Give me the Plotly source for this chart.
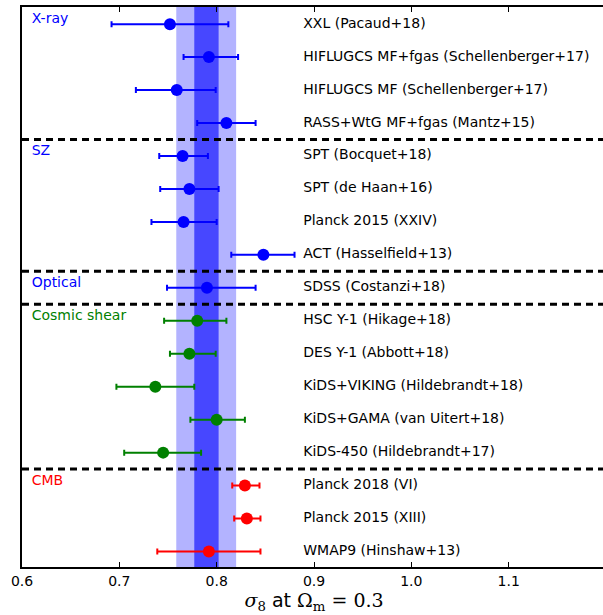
import plotly.graph_objects as go

labels = ["XXL (Pacaud+18)", "HIFLUGCS MF+fgas (Schellenberger+17)", "HIFLUGCS MF (Schellenberger+17)",
          "RASS+WtG MF+fgas (Mantz+15)", "SPT (Bocquet+18)", "SPT (de Haan+16)", "Planck 2015 (XXIV)",
          "ACT (Hasselfield+13)", "SDSS (Costanzi+18)", "HSC Y-1 (Hikage+18)", "DES Y-1 (Abbott+18)",
          "KiDS+VIKING (Hildebrandt+18)", "KiDS+GAMA (van Uitert+18)", "KiDS-450 (Hildebrandt+17)",
          "Planck 2018 (VI)", "Planck 2015 (XIII)", "WMAP9 (Hinshaw+13)"]
sigma8 = [0.752, 0.792, 0.759, 0.810, 0.765, 0.772, 0.766, 0.848, 0.790,
          0.780, 0.772, 0.737, 0.800, 0.745, 0.829, 0.831, 0.792]
lower = [0.692, 0.766, 0.717, 0.780, 0.741, 0.742, 0.733, 0.815, 0.749,
         0.746, 0.752, 0.697, 0.773, 0.705, 0.816, 0.818, 0.739]
upper = [0.812, 0.822, 0.799, 0.840, 0.791, 0.802, 0.800, 0.880, 0.840,
         0.810, 0.799, 0.777, 0.829, 0.784, 0.844, 0.845, 0.845]
groups = ["X-ray", "X-ray", "X-ray", "X-ray", "SZ", "SZ", "SZ", "SZ", "Optical",
          "Cosmic shear", "Cosmic shear", "Cosmic shear", "Cosmic shear", "Cosmic shear",
          "CMB", "CMB", "CMB"]
group_names = ["X-ray", "SZ", "Optical", "Cosmic shear", "CMB"]
group_colors = {"X-ray": "#0000ff", "SZ": "#0000ff", "Optical": "#0000ff",
                "Cosmic shear": "#008000", "CMB": "#ff0000"}
band_outer = [0.7585, 0.820]
band_inner = [0.777, 0.802]
x_ticks = [0.6, 0.7, 0.8, 0.9, 1.0, 1.1]
x_range = [0.6, 1.2]

label_x = 0.889
group_label_x = 0.610

fig = go.Figure()

# bands
fig.add_shape(type="rect", xref="x", yref="paper", x0=band_outer[0], x1=band_outer[1], y0=0, y1=1,
              fillcolor="#b3b3ff", line_width=0, layer="below")
fig.add_shape(type="rect", xref="x", yref="paper", x0=band_inner[0], x1=band_inner[1], y0=0, y1=1,
              fillcolor="#4747ff", line_width=0, layer="below")

rows = list(range(len(labels)))
for g in group_names:
    idx = [i for i in rows if groups[i] == g]
    col = group_colors[g]
    fig.add_trace(go.Scatter(
        x=[sigma8[i] for i in idx], y=idx, mode="markers",
        marker=dict(color=col, size=12),
        error_x=dict(type="data", symmetric=False,
                     array=[upper[i] - sigma8[i] for i in idx],
                     arrayminus=[sigma8[i] - lower[i] for i in idx],
                     color=col, thickness=2, width=3),
        showlegend=False, hoverinfo="skip"))
    first = idx[0]
    fig.add_trace(go.Scatter(
        x=[group_label_x], y=[first - 0.13], mode="text", text=[g],
        textposition="middle right", textfont=dict(color=col, size=14, family="DejaVu Sans"),
        showlegend=False, hoverinfo="skip"))

fig.add_trace(go.Scatter(
    x=[label_x] * len(labels), y=rows, mode="text", text=labels,
    textposition="middle right", textfont=dict(color="black", size=14, family="DejaVu Sans"),
    showlegend=False, hoverinfo="skip", cliponaxis=False))

# separators
for i in range(1, len(groups)):
    if groups[i] != groups[i - 1]:
        fig.add_shape(type="line", xref="paper", yref="y", x0=0, x1=1, y0=i - 0.5, y1=i - 0.5,
                      line=dict(color="black", width=3, dash="7px,5px"))

fig.update_layout(
    width=606, height=615,
    margin=dict(l=22, r=0, t=6.5, b=48),
    plot_bgcolor="white", paper_bgcolor="white",
    font=dict(family="DejaVu Sans", size=14, color="black"),
    xaxis=dict(range=x_range, tickvals=x_ticks, ticktext=[f"{v:.1f}" for v in x_ticks],
               ticks="inside", ticklen=5, tickwidth=1, tickcolor="black",
               showline=True, linecolor="black", linewidth=1.5, mirror="ticks",
               showgrid=False, zeroline=False,
               tickfont=dict(size=14, family="DejaVu Sans"),
               title=dict(text="<span style='font-family:DejaVu Serif'><i>σ</i><sub>8</sub></span> at "
                               "<span style='font-family:DejaVu Serif'>Ω<sub>m</sub> = 0.3</span>",
                          font=dict(size=19), standoff=4)),
    yaxis=dict(range=[16.47, -0.52], showticklabels=False, ticks="", showgrid=False, zeroline=False,
               showline=True, linecolor="black", linewidth=1.5, mirror=False),
)

fig.write_html("out.html", config={"displayModeBar": False},
               post_script="document.body.style.margin='0px';"
                           "document.body.style.overflow='hidden';"
                           "document.documentElement.style.overflow='hidden';")
